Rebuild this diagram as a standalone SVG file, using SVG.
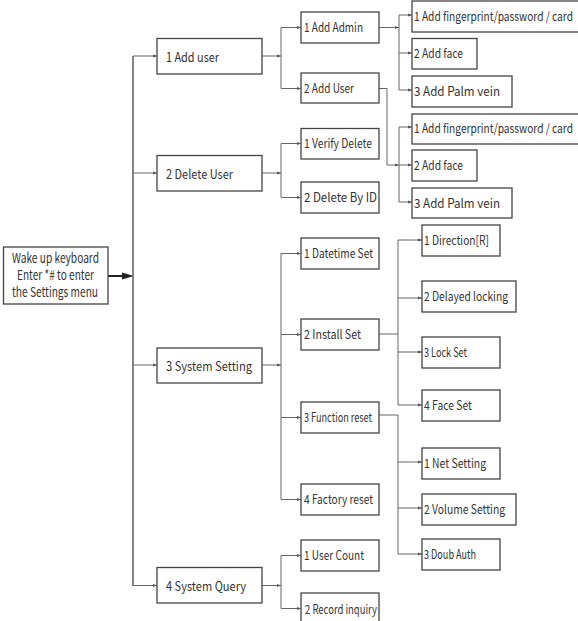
<svg xmlns="http://www.w3.org/2000/svg" width="578" height="621" viewBox="0 0 578 621">
<defs>
<style>
.box{fill:#fff;stroke:#444;stroke-width:1.3}
.t{font-family:"Noto Sans CJK SC","Source Han Sans SC","Liberation Sans",sans-serif;font-size:12.5px;fill:#333}
.t1{font-size:13px}
.t0{font-size:13.5px}
.c{fill:none;stroke:#666;stroke-width:1}
.tr{fill:none;stroke:#666;stroke-width:1.6}
</style>
<marker id="a" markerUnits="userSpaceOnUse" markerWidth="5" markerHeight="4" refX="4" refY="2" orient="auto"><path d="M0,0.5 L4,2 L0,3.5 z" fill="#555"/></marker>
</defs>
<rect width="578" height="621" fill="#fff"/>
<g id="connectors">
<line x1="108" y1="276" x2="124" y2="276" stroke="#222" stroke-width="2"/>
<path d="M122,272.5 L134,276 L122,279.5 z" fill="#222"/>
<line class="tr" x1="133" y1="56" x2="133" y2="586"/>
<path class="c" d="M133,56 H157" marker-end="url(#a)"/>
<path class="c" d="M133,173 H157" marker-end="url(#a)"/>
<path class="c" d="M133,365 H157" marker-end="url(#a)"/>
<path class="c" d="M133,585.5 H157" marker-end="url(#a)"/>
<path class="c" d="M262,56 H281" marker-end="url(#a)"/>
<path class="c" d="M281,27.5 V88.5"/>
<path class="c" d="M281,27.5 H301" marker-end="url(#a)"/>
<path class="c" d="M281,88.5 H301" marker-end="url(#a)"/>
<path class="c" d="M262,173 H281" marker-end="url(#a)"/>
<path class="c" d="M281,143.5 V197.5"/>
<path class="c" d="M281,143.5 H301" marker-end="url(#a)"/>
<path class="c" d="M281,197.5 H301" marker-end="url(#a)"/>
<path class="c" d="M262,365 H281" marker-end="url(#a)"/>
<path class="c" d="M281,253.5 V499.5"/>
<path class="c" d="M281,253.5 H301" marker-end="url(#a)"/>
<path class="c" d="M281,334.5 H301" marker-end="url(#a)"/>
<path class="c" d="M281,417.5 H301" marker-end="url(#a)"/>
<path class="c" d="M281,499.5 H301" marker-end="url(#a)"/>
<path class="c" d="M262,585.5 H281" marker-end="url(#a)"/>
<path class="c" d="M281,555.5 V608.5"/>
<path class="c" d="M281,555.5 H301" marker-end="url(#a)"/>
<path class="c" d="M281,608.5 H301" marker-end="url(#a)"/>
<path class="c" d="M379,27.5 H399" marker-end="url(#a)"/>
<path class="c" d="M399,15 V90"/>
<path class="c" d="M399,15 H412" marker-end="url(#a)"/>
<path class="c" d="M399,53 H412" marker-end="url(#a)"/>
<path class="c" d="M399,90 H412" marker-end="url(#a)"/>
<path class="c" d="M379,88.5 H387 V165 H399" marker-end="url(#a)"/>
<path class="c" d="M399,127 V202"/>
<path class="c" d="M399,127 H412" marker-end="url(#a)"/>
<path class="c" d="M399,165 H412" marker-end="url(#a)"/>
<path class="c" d="M399,202 H412" marker-end="url(#a)"/>
<path class="c" d="M379,334 H398"/>
<path class="c" d="M398,240 V405"/>
<path class="c" d="M398,240 H422" marker-end="url(#a)"/>
<path class="c" d="M398,298 H422" marker-end="url(#a)"/>
<path class="c" d="M398,352 H422" marker-end="url(#a)"/>
<path class="c" d="M398,405 H422" marker-end="url(#a)"/>
<path class="c" d="M379,415 H398 V554"/>
<path class="c" d="M398,462 H422" marker-end="url(#a)"/>
<path class="c" d="M398,508 H422" marker-end="url(#a)"/>
<path class="c" d="M398,554 H422" marker-end="url(#a)"/>
</g>
<g id="root"><rect class="box" x="3.5" y="247" width="104.5" height="57"/>
<text class="t t0" x="12" y="263" textLength="87" lengthAdjust="spacingAndGlyphs">Wake up keyboard</text>
<text class="t t0" x="17" y="280" textLength="77" lengthAdjust="spacingAndGlyphs">Enter *# to enter</text>
<text class="t t0" x="12" y="297" textLength="86" lengthAdjust="spacingAndGlyphs">the Settings menu</text></g>
<g id="n1"><rect class="box" x="157" y="38.5" width="105" height="35.5"/><text class="t t1" x="166" y="61.5" textLength="53" lengthAdjust="spacingAndGlyphs">1 Add user</text></g>
<g id="n2"><rect class="box" x="157" y="155.5" width="105" height="35.5"/><text class="t t1" x="166" y="178.5" textLength="67" lengthAdjust="spacingAndGlyphs">2 Delete User</text></g>
<g id="n3"><rect class="box" x="157" y="348" width="105" height="35" /><text class="t t1" x="166" y="370.5" textLength="86" lengthAdjust="spacingAndGlyphs">3 System Setting</text></g>
<g id="n4"><rect class="box" x="157" y="567.5" width="105" height="35.5"/><text class="t t1" x="166" y="590.5" textLength="80" lengthAdjust="spacingAndGlyphs">4 System Query</text></g>
<g id="n11"><rect class="box" x="301" y="12" width="78" height="31"/><text class="t" x="304" y="32" textLength="59" lengthAdjust="spacingAndGlyphs">1 Add Admin</text></g>
<g id="n12"><rect class="box" x="301" y="73" width="78" height="30"/><text class="t" x="304" y="93" textLength="50" lengthAdjust="spacingAndGlyphs">2 Add User</text></g>
<g id="n21"><rect class="box" x="301" y="128.5" width="78" height="30.5"/><text class="t" x="304" y="148" textLength="68" lengthAdjust="spacingAndGlyphs">1 Verify Delete</text></g>
<g id="n22"><rect class="box" x="301" y="182" width="78" height="31"/><text class="t" x="304" y="202" textLength="73" lengthAdjust="spacingAndGlyphs">2 Delete By ID</text></g>
<g id="n31"><rect class="box" x="301" y="238" width="78" height="31"/><text class="t" x="304" y="258" textLength="69" lengthAdjust="spacingAndGlyphs">1 Datetime Set</text></g>
<g id="n32"><rect class="box" x="301" y="319" width="78" height="31"/><text class="t" x="304" y="339" textLength="57" lengthAdjust="spacingAndGlyphs">2 Install  Set</text></g>
<g id="n33"><rect class="box" x="301" y="402" width="78" height="31"/><text class="t" x="304" y="422" textLength="68" lengthAdjust="spacingAndGlyphs">3 Function reset</text></g>
<g id="n34"><rect class="box" x="301" y="484" width="78" height="31"/><text class="t" x="304" y="504" textLength="69" lengthAdjust="spacingAndGlyphs">4 Factory reset</text></g>
<g id="n41"><rect class="box" x="301" y="540" width="78" height="31"/><text class="t" x="304" y="560" textLength="60" lengthAdjust="spacingAndGlyphs">1 User Count</text></g>
<g id="n42"><rect class="box" x="301" y="593" width="78" height="31"/><text class="t" x="305" y="614" textLength="72" lengthAdjust="spacingAndGlyphs">2 Record inquiry</text></g>
<g id="n111"><rect class="box" x="412" y="1" width="168" height="31"/><text class="t" x="414" y="21" textLength="159" lengthAdjust="spacingAndGlyphs">1 Add fingerprint/password / card</text></g>
<g id="n112"><rect class="box" x="412" y="38.5" width="65" height="30.5"/><text class="t" x="414" y="58" textLength="49" lengthAdjust="spacingAndGlyphs">2 Add face</text></g>
<g id="n113"><rect class="box" x="412" y="76" width="100" height="31"/><text class="t" x="414" y="96" textLength="86" lengthAdjust="spacingAndGlyphs">3 Add Palm vein</text></g>
<g id="n121"><rect class="box" x="412" y="114" width="168" height="30"/><text class="t" x="414" y="133" textLength="159" lengthAdjust="spacingAndGlyphs">1 Add fingerprint/password / card</text></g>
<g id="n122"><rect class="box" x="412" y="150" width="65" height="31"/><text class="t" x="414" y="170" textLength="49" lengthAdjust="spacingAndGlyphs">2 Add face</text></g>
<g id="n123"><rect class="box" x="412" y="188" width="100" height="30"/><text class="t" x="414" y="208" textLength="86" lengthAdjust="spacingAndGlyphs">3 Add Palm vein</text></g>
<g id="n321"><rect class="box" x="422" y="225" width="78" height="31"/><text class="t" x="424" y="245" textLength="65" lengthAdjust="spacingAndGlyphs">1 Direction[R]</text></g>
<g id="n322"><rect class="box" x="422" y="281" width="94" height="31"/><text class="t" x="424" y="301" textLength="84" lengthAdjust="spacingAndGlyphs">2 Delayed locking</text></g>
<g id="n323"><rect class="box" x="422" y="337" width="78" height="31"/><text class="t" x="424" y="357" textLength="43" lengthAdjust="spacingAndGlyphs">3 Lock Set</text></g>
<g id="n324"><rect class="box" x="422" y="390" width="78" height="31"/><text class="t" x="424" y="410" textLength="48" lengthAdjust="spacingAndGlyphs">4 Face Set</text></g>
<g id="n331"><rect class="box" x="422" y="448" width="78" height="31"/><text class="t" x="424" y="468" textLength="62" lengthAdjust="spacingAndGlyphs">1 Net Setting</text></g>
<g id="n332"><rect class="box" x="422" y="494" width="94" height="31"/><text class="t" x="424" y="514" textLength="81" lengthAdjust="spacingAndGlyphs">2 Volume Setting</text></g>
<g id="n333"><rect class="box" x="422" y="539" width="78" height="31"/><text class="t" x="424" y="559" textLength="52" lengthAdjust="spacingAndGlyphs">3 Doub Auth</text></g>
</svg>
